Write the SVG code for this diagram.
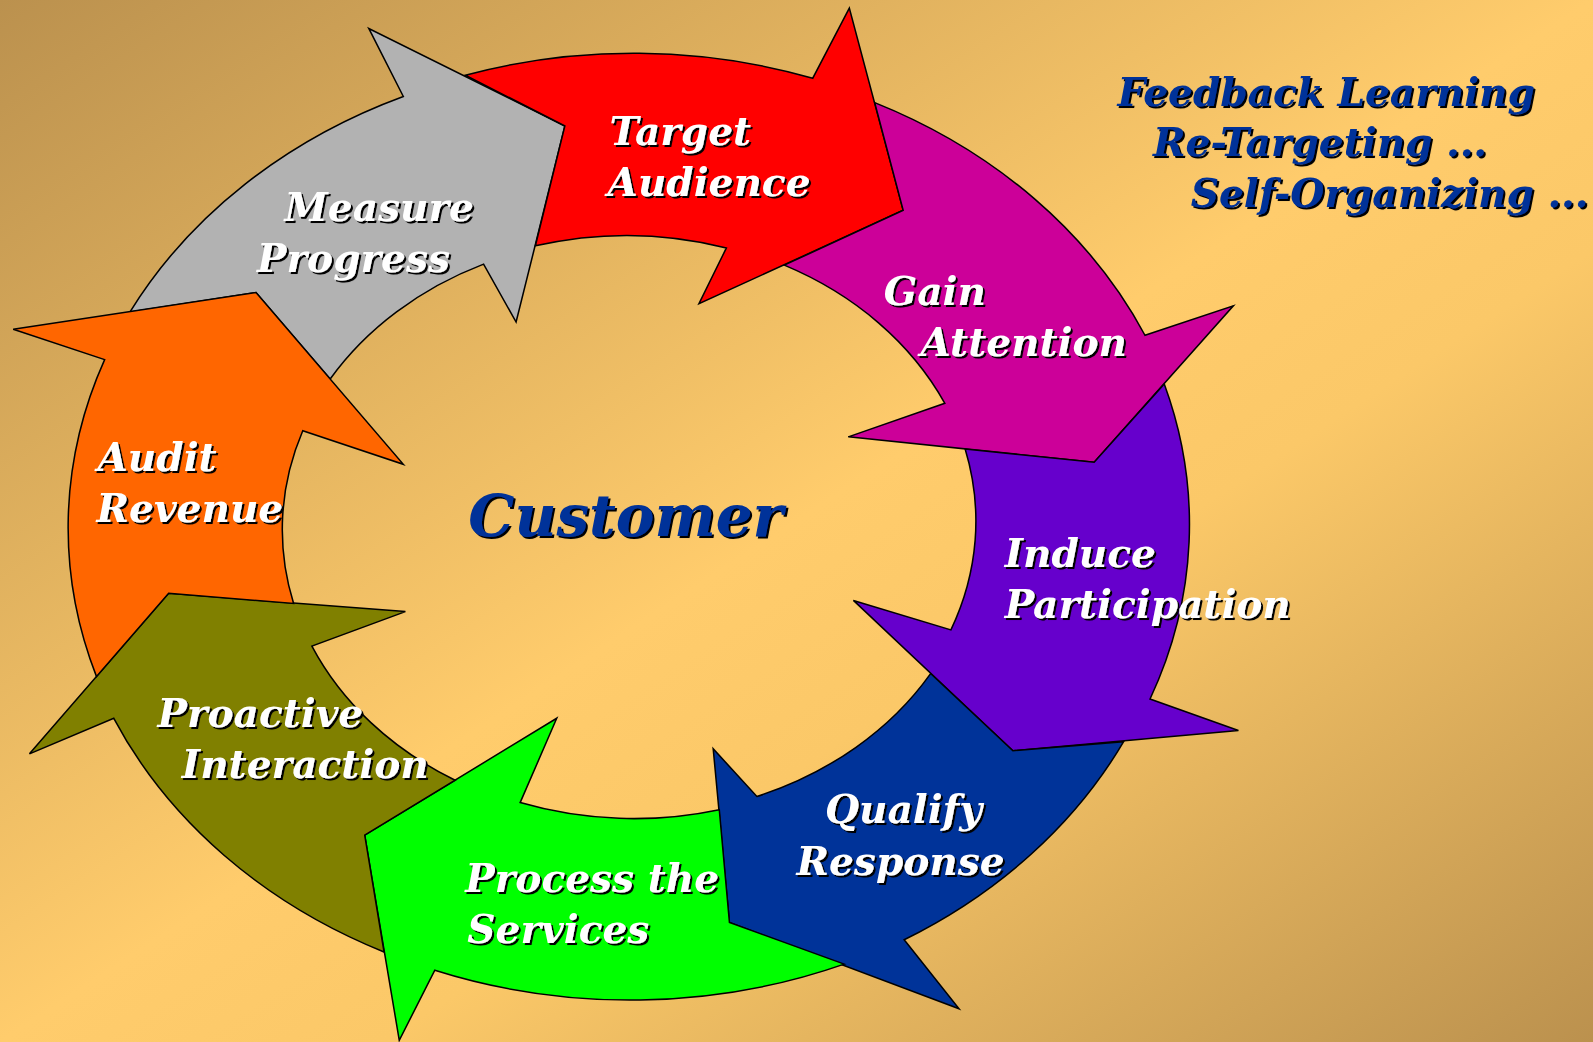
<svg xmlns="http://www.w3.org/2000/svg" width="1593" height="1042" viewBox="0 0 1593 1042">
  <defs>
    <linearGradient id="bg" x1="0" y1="0" x2="1" y2="1">
      <stop offset="0" stop-color="#BB914E"/>
      <stop offset="0.5" stop-color="#FFCC6C"/>
      <stop offset="0.62" stop-color="#FBC868"/>
      <stop offset="1" stop-color="#BB914E"/>
    </linearGradient>
    <filter id="shadow" x="-10%" y="-10%" width="130%" height="140%">
      <feDropShadow dx="2" dy="2" stdDeviation="0.4" flood-color="#000" flood-opacity="1"/>
    </filter>
  </defs>
  <style>
    .arrow { stroke: #000; stroke-width: 1.5; stroke-linejoin: miter; }
    .label { font-family: "DejaVu Serif", "Liberation Serif", serif; font-weight: bold; font-style: italic; font-size: 38.5px; fill: #fff; filter: url(#shadow); }
    .hub { font-family: "DejaVu Serif", "Liberation Serif", serif; font-weight: bold; font-style: italic; font-size: 57px; fill: #003399; filter: url(#shadow); }
    .note { font-family: "DejaVu Serif", "Liberation Serif", serif; font-weight: bold; font-style: italic; font-size: 38.5px; fill: #003399; filter: url(#shadow); }
  </style>

  <rect width="1593" height="1042" fill="url(#bg)"/>

  <g transform="scale(1.01594)">
    <!-- ring of eight curved arrows; each tail is notched to the head before it -->
    <g id="measure-progress">
      <path class="arrow" fill="#B2B2B2" d="M128,307 A551,466 0 0 1 397,95 L363,28 L556,124 L508,317 L476,260 A343,288 0 0 0 325,373 L252,288 Z"/>
      <text class="label" x="280" y="218">Measure</text>
      <text class="label" x="253" y="268">Progress</text>
    </g>
    <g id="target-audience">
      <path class="arrow" fill="#FF0000" d="M458,74 A551,466 0 0 1 800,77 L836,8 L889,207 L688,299 L715,244 A343,288 0 0 0 527,242 L556,124 Z"/>
      <text class="label" x="600" y="143">Target</text>
      <text class="label" x="598" y="193">Audience</text>
    </g>
    <g id="gain-attention">
      <path class="arrow" fill="#CC0099" d="M861,101 A551,466 0 0 1 1127,330 L1214,301 L1077,455 L835,430 L930,397 A343,288 0 0 0 772,261 L889,207 Z"/>
      <text class="label" x="870" y="300">Gain</text>
      <text class="label" x="906" y="350">Attention</text>
    </g>
    <g id="induce-participation">
      <path class="arrow" fill="#6600CC" d="M1146,378 A551,466 0 0 1 1132,688 L1219,719 L997,739 L840,591 L936,620 A343,288 0 0 0 950,442 L1077,455 Z"/>
      <text class="label" x="989" y="558">Induce</text>
      <text class="label" x="989" y="608">Participation</text>
    </g>
    <g id="qualify-response">
      <path class="arrow" fill="#003399" d="M1106,730 A551,466 0 0 1 890,925 L944,993 L718,908 L702,737 L745,784 A343,288 0 0 0 916,663 L997,739 Z"/>
      <text class="label" x="812" y="810">Qualify</text>
      <text class="label" x="784" y="861">Response</text>
    </g>
    <g id="process-services">
      <path class="arrow" fill="#00FF00" d="M831,949 A551,466 0 0 1 428,955 L393,1024 L359,822 L548,707 L512,790 A343,288 0 0 0 708,797 L718,908 Z"/>
      <text class="label" x="458" y="878">Process the</text>
      <text class="label" x="460" y="928">Services</text>
    </g>
    <g id="proactive-interaction">
      <path class="arrow" fill="#808000" d="M378,937 A551,466 0 0 1 112,707 L29,742 L166,584 L399,602 L307,636 A343,288 0 0 0 448,768 L359,822 Z"/>
      <text class="label" x="155" y="716">Proactive</text>
      <text class="label" x="179" y="766">Interaction</text>
    </g>
    <g id="audit-revenue">
      <path class="arrow" fill="#FF6600" d="M95,666 A551,466 0 0 1 103,354 L13,324 L252,288 L397,457 L298,424 A343,288 0 0 0 289,594 L166,584 Z"/>
      <text class="label" x="96" y="464">Audit</text>
      <text class="label" x="95" y="514">Revenue</text>
    </g>

    <!-- centre label -->
    <g id="customer">
      <text class="hub" x="461" y="528">Customer</text>
    </g>

    <!-- side notes -->
    <g id="notes">
      <text class="note" x="1100" y="104">Feedback Learning</text>
      <text class="note" x="1135" y="154">Re-Targeting ...</text>
      <text class="note" x="1172" y="204">Self-Organizing ...</text>
    </g>
  </g>
</svg>
